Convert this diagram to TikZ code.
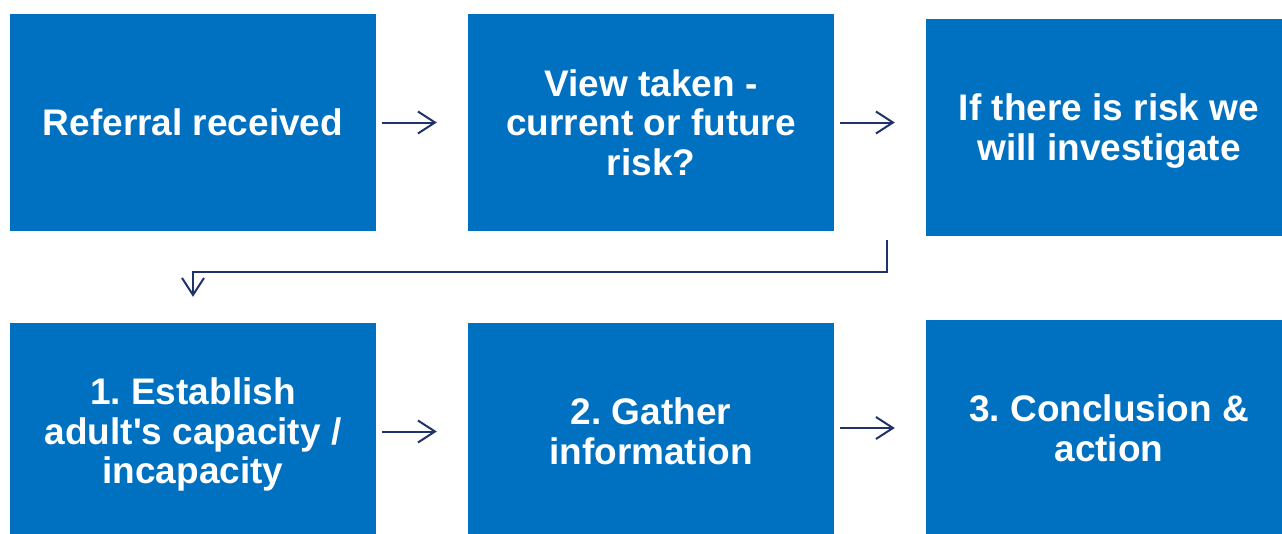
\documentclass[tikz,border=0pt]{standalone}
\usepackage{fontspec}
\setmainfont{Liberation Sans}
\usetikzlibrary{arrows.meta}
\definecolor{boxblue}{RGB}{0,112,192}
\definecolor{navy}{RGB}{31,50,105}
\begin{document}
\frenchspacing
\begin{tikzpicture}[x=1pt,y=-1pt,
  steptext/.style={text=white, align=center, inner sep=0pt,
    font=\fontsize{37}{39.5}\selectfont\bfseries},
  stepbox/.style={steptext, rectangle, fill=boxblue, draw=none,
    minimum width=366pt, minimum height=217pt},
  flow/.style={draw=navy, line width=2pt,
    -{Straight Barb[length=17pt,width=22pt,line width=2pt]}}]
\useasboundingbox (0,0) rectangle (1282,533);
% top row
\node[stepbox] (b1) at (193,122.5) {Referral received};
\node[stepbox] (b2) at (651,122.5) {View taken -\\current or future\\risk?};
\node[stepbox] (b3) at (1109,127.5) {};
\node[steptext] (b3t) at ([yshift=-3.5pt]b3.center) {If there is risk we\\will investigate};
% bottom row (runs past the lower edge)
\node[stepbox, minimum height=223pt] (b4) at (193,434.5) {1. Establish\\adult\textquotesingle s capacity /\\incapacity};
\node[stepbox] (b5) at (651,431.5) {2. Gather\\information};
\node[stepbox] (b6) at (1109,428.5) {3. Conclusion \&\\action};
% connectors
\coordinate (s1) at ([xshift=6pt]b1.east);
\coordinate (s2) at ([xshift=6pt]b2.east);
\coordinate (s4) at ([xshift=6pt,yshift=3pt]b4.east);
\coordinate (s5) at ([xshift=6pt,yshift=3.5pt]b5.east);
\draw[flow] (s1) -- ([xshift=-31pt]b2.west |- s1);
\draw[flow] (s2) -- ([xshift=-31pt]b3.west |- s2);
\draw[flow] (s4) -- ([xshift=-31pt]b5.west |- s4);
\draw[flow] (s5) -- ([xshift=-31pt]b6.west |- s5);
\coordinate (e0) at (887,240);
\coordinate (bend) at (887,272);
\draw[flow] (e0) -- (bend) -| ([yshift=26pt]b4.north);
\end{tikzpicture}
\end{document}
